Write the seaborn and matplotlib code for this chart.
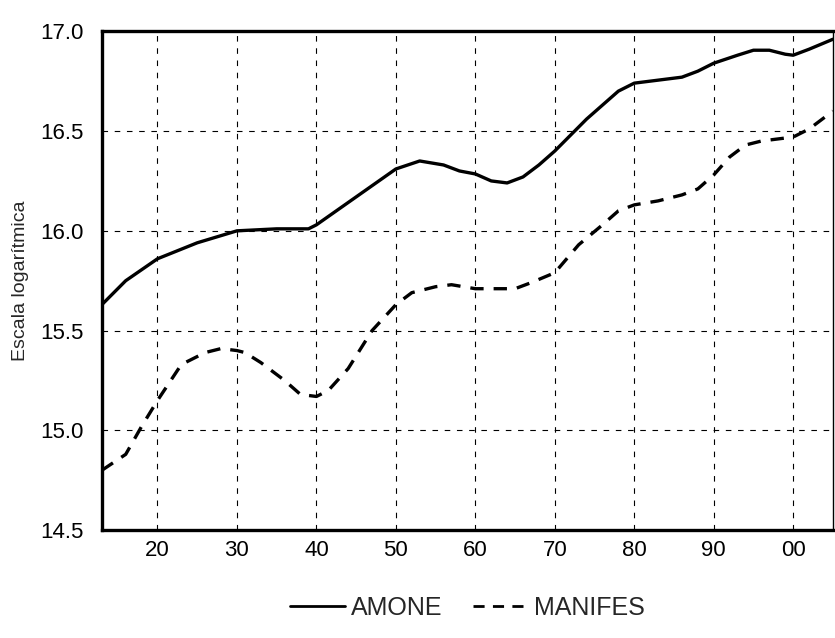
import matplotlib
matplotlib.use("Agg")
import matplotlib.pyplot as plt
from matplotlib.lines import Line2D
from matplotlib.ticker import MultipleLocator, FixedLocator
import numpy as np
import pandas as pd
import seaborn as sns

# Series AMONE (log scale values)
amone_years = [1913, 1916, 1920, 1925, 1930, 1935, 1939, 1940, 1945, 1950, 1953,
               1956, 1958, 1960, 1962, 1964, 1966, 1968, 1970, 1972, 1974, 1976,
               1978, 1980, 1983, 1986, 1988, 1990, 1993, 1995, 1997, 1999, 2000,
               2002, 2005]
amone_values = [15.63, 15.75, 15.86, 15.94, 16.00, 16.01, 16.01, 16.03, 16.17, 16.31,
                16.35, 16.33, 16.30, 16.285, 16.25, 16.24, 16.27, 16.33, 16.40, 16.48,
                16.56, 16.63, 16.70, 16.74, 16.755, 16.77, 16.80, 16.84, 16.88, 16.905,
                16.905, 16.885, 16.88, 16.91, 16.96]

# Series MANIFES (log scale values)
manifes_years = [1913, 1916, 1918, 1920, 1923, 1926, 1928, 1930, 1931, 1933, 1936,
                 1938, 1940, 1941.5, 1944, 1947, 1950, 1952, 1955, 1957, 1960, 1965,
                 1967, 1970, 1973, 1976, 1978, 1980, 1983, 1986, 1988, 1990, 1992,
                 1994, 1996, 2000, 2002, 2004, 2005]
manifes_values = [14.80, 14.88, 15.02, 15.15, 15.33, 15.39, 15.41, 15.40, 15.39, 15.34,
                  15.25, 15.18, 15.17, 15.20, 15.31, 15.50, 15.63, 15.69, 15.72, 15.73,
                  15.71, 15.71, 15.74, 15.79, 15.93, 16.03, 16.10, 16.13, 16.15, 16.18,
                  16.21, 16.28, 16.37, 16.43, 16.45, 16.47, 16.51, 16.57, 16.60]

series_names = ["AMONE", "MANIFES"]
x_tick_years = [1920, 1930, 1940, 1950, 1960, 1970, 1980, 1990, 2000]
x_tick_labels = ["20", "30", "40", "50", "60", "70", "80", "90", "00"]
y_ticks = [14.5, 15.0, 15.5, 16.0, 16.5, 17.0]
y_tick_labels = ["14.5", "15.0", "15.5", "16.0", "16.5", "17.0"]
y_label = "Escala logarítmica"

df = pd.concat([
    pd.DataFrame({"year": amone_years, "value": amone_values, "serie": series_names[0]}),
    pd.DataFrame({"year": manifes_years, "value": manifes_values, "serie": series_names[1]}),
], ignore_index=True)

sns.set_style("white")
plt.rcParams["font.family"] = ["Liberation Sans", "DejaVu Sans"]

fig = plt.figure(figsize=(8.35, 6.38), dpi=100)
ax = fig.add_axes([0.122, 0.169, 0.8755, 0.782])

line_dashes = {series_names[0]: "", series_names[1]: (4, 3)}
sns.lineplot(data=df, x="year", y="value", style="serie", dashes=line_dashes,
             color="black", linewidth=2.4, sort=True, estimator=None,
             legend=False, ax=ax)

ax.set_xlim(1913, 2005)
ax.set_ylim(14.5, 17.0)

ax.xaxis.set_major_locator(FixedLocator(x_tick_years))
ax.set_xticklabels(x_tick_labels)
ax.xaxis.set_minor_locator(MultipleLocator(1))
ax.yaxis.set_major_locator(FixedLocator(y_ticks))
ax.set_yticklabels(y_tick_labels)

ax.tick_params(axis="x", which="major", direction="out", length=5, width=1.2,
               labelsize=16, pad=2, colors="black")
ax.tick_params(axis="x", which="minor", direction="out", length=3, width=0.9,
               colors="black")
ax.tick_params(axis="y", which="major", direction="in", length=4, width=1.0,
               labelsize=16, pad=13, colors="black")

ax.grid(True, which="major", color="black", linewidth=0.8, linestyle=(0, (5, 6)))

for side in ["left", "bottom", "top"]:
    ax.spines[side].set_linewidth(2.4)
    ax.spines[side].set_color("black")
ax.spines["right"].set_linewidth(1.0)
ax.spines["right"].set_color("black")

ax.set_xlabel("")
ax.set_ylabel(y_label, fontsize=14, labelpad=8)

handles = [
    Line2D([], [], color="black", linewidth=2.0, linestyle="-"),
    Line2D([], [], color="black", linewidth=2.0, linestyle=(0, (4, 3))),
]
fig.legend(handles, series_names, loc="center", bbox_to_anchor=(0.56, 0.047),
           ncol=2, frameon=False, fontsize=18, handlelength=2.2,
           handletextpad=0.25, columnspacing=1.2)

fig.savefig("out.png", dpi=100)
